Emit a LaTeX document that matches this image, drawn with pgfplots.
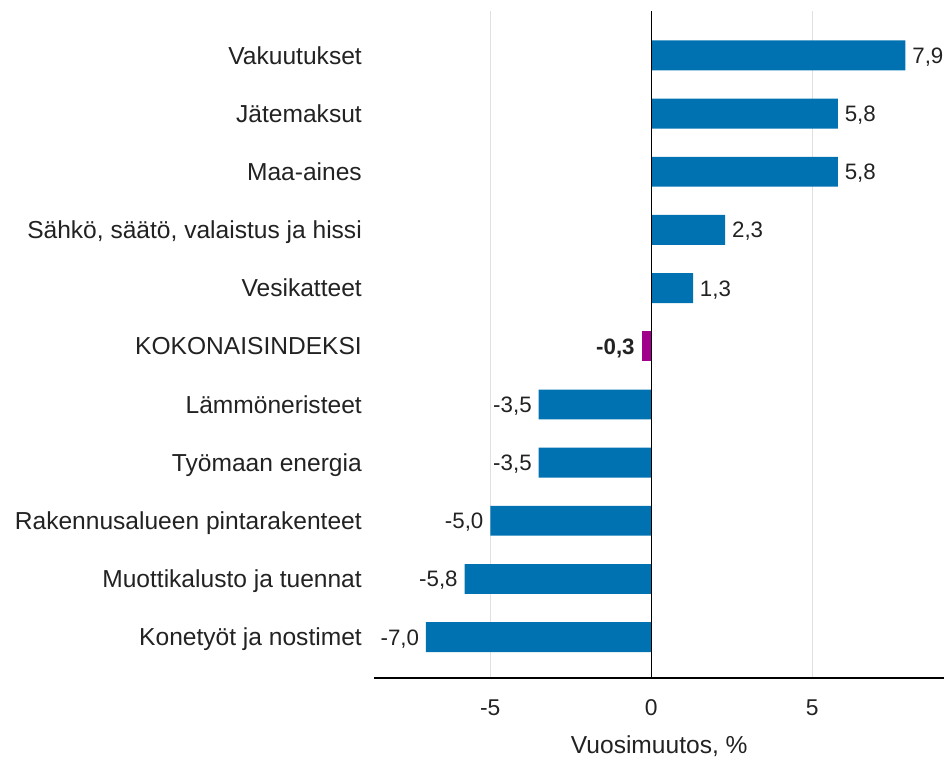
\documentclass[border=0pt]{standalone}
\usepackage{pgfplots}
\pgfplotsset{compat=1.18}
\usepackage{fontspec}
\setmainfont{Liberation Sans}
\definecolor{barblue}{RGB}{0,114,178}
\definecolor{barpurple}{RGB}{160,0,140}
\definecolor{txt}{RGB}{34,34,34}
\begin{document}
\begin{tikzpicture}
\begin{axis}[
  name=ax,
  scale only axis, width=429pt, height=502.5pt,
  xmin=-8.6, xmax=9.1, ymin=-0.7, ymax=10.77,
  axis x line*=bottom, axis y line*=left,
  y axis line style={draw=none},
  x axis line style={line width=1pt},
  xbar, bar shift=0pt, bar width=22.5pt,
  xtick={-5,5}, xticklabels={{-5},{5}},
  extra x ticks={0}, extra x tick labels={0},
  extra x tick style={grid=none},
  xmajorgrids, grid style={black!12, line width=0.9pt},
  major tick length=0pt,
  xticklabel style={font=\fontsize{17.2}{20}\selectfont, text=txt, yshift=-13pt},
  ytick={0,...,10},
  yticklabels={Konetyöt ja nostimet, Muottikalusto ja tuennat, Rakennusalueen pintarakenteet, Työmaan energia, Lämmöneristeet, KOKONAISINDEKSI, Vesikatteet, {Sähkö, säätö, valaistus ja hissi}, Maa-aines, Jätemaksut, Vakuutukset},
  yticklabel style={font=\fontsize{18.5}{21}\selectfont, text=txt, xshift=-6pt, text height=13pt, text depth=0pt},
  xlabel={Vuosimuutos, \%},
  xlabel style={font=\fontsize{18.5}{21}\selectfont, text=txt, yshift=-8pt},
  point meta=explicit symbolic,
  nodes near coords={\pgfplotspointmeta},
]
\addplot[fill=barblue, draw=none, nodes near coords style={font=\fontsize{16.8}{19}\selectfont, text=txt, anchor=west, inner xsep=5pt, text height=12pt, text depth=0pt}] table[x=x, y=y, meta=lab] {
x y lab
1.3 6 1,3
2.3 7 2,3
5.8 8 5,8
5.8 9 5,8
7.9 10 7,9
};
\addplot[fill=barblue, draw=none, nodes near coords style={font=\fontsize{16.8}{19}\selectfont, text=txt, anchor=east, inner xsep=5pt, text height=12pt, text depth=0pt}] table[x=x, y=y, meta=lab] {
x y lab
-7.0 0 -7,0
-5.8 1 -5,8
-5.0 2 -5,0
-3.5 3 -3,5
-3.5 4 -3,5
};
\addplot[fill=barpurple, draw=none, nodes near coords style={font=\fontsize{16.8}{19}\selectfont\bfseries, text=txt, anchor=east, inner xsep=5pt, text height=12pt, text depth=0pt}] table[x=x, y=y, meta=lab] {
x y lab
-0.3 5 -0,3
};
\draw[black, line width=1pt] (axis cs:0,-0.7) -- (axis cs:0,10.77);
\end{axis}
\path (ax.north west) ++(-282pt,8pt) coordinate (tl);
\path (tl) rectangle (ax.south east);
\end{tikzpicture}
\end{document}
